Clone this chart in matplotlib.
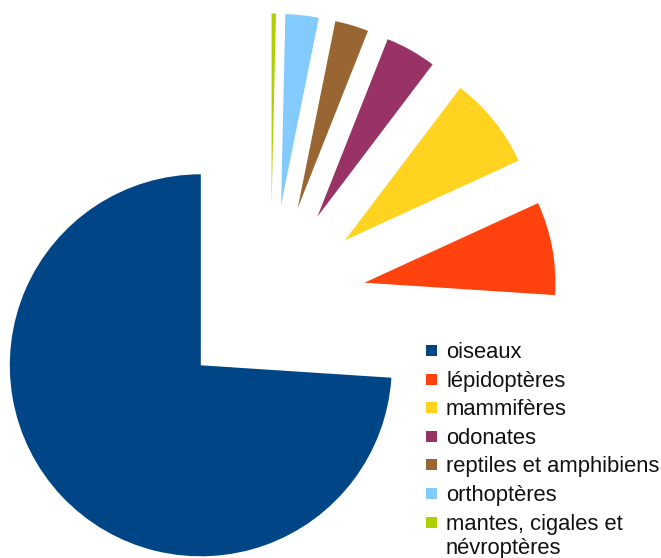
import matplotlib
matplotlib.use("Agg")
import matplotlib.pyplot as plt
from matplotlib.patches import Rectangle

categories = ["oiseaux", "lépidoptères", "mammifères", "odonates",
              "reptiles et amphibiens", "orthoptères",
              "mantes, cigales et\nnévroptères"]
values = [73.8, 7.86, 7.83, 4.3, 2.83, 2.8, 0.36]
colors = ["#004586", "#ff420e", "#ffd320", "#993366", "#996633", "#83caff", "#aecf00"]

W, H = 661, 558
fig = plt.figure(figsize=(W / 100, H / 100), dpi=100)
ax = fig.add_axes([0, 0, 1, 1])

R = 191.0          # radius in px
cx, cy = 270.5, 300.0  # pie centre in image px
ax.pie(values, colors=colors, startangle=90, counterclock=True,
       explode=[0.5] * len(values), radius=1,
       wedgeprops=dict(linewidth=0, edgecolor="none", antialiased=True))
ax.set_aspect("auto")
ax.set_xlim(-cx / R, (W - cx) / R)
ax.set_ylim(-(H - cy) / R, cy / R)
ax.axis("off")

# legend drawn manually
fs = 15.8
sq = 11
x_sq = 426
x_txt = 446
y0 = 350.5
dy = 28.6
for i, (lab, col) in enumerate(zip(categories, colors)):
    yc = y0 + i * dy
    fig.patches.append(Rectangle((x_sq / W, 1 - (yc + sq / 2) / H), sq / W, sq / H,
                                 transform=fig.transFigure, facecolor=col,
                                 edgecolor="none", figure=fig))
    for j, line in enumerate(lab.split("\n")):
        yb = yc + 7.5 + j * 24.5
        fig.text(x_txt / W, 1 - yb / H, line, fontsize=fs,
                 family=["Liberation Sans", "DejaVu Sans"],
                 color="#111111", ha="left", va="baseline")

fig.savefig("out.png", dpi=100)
